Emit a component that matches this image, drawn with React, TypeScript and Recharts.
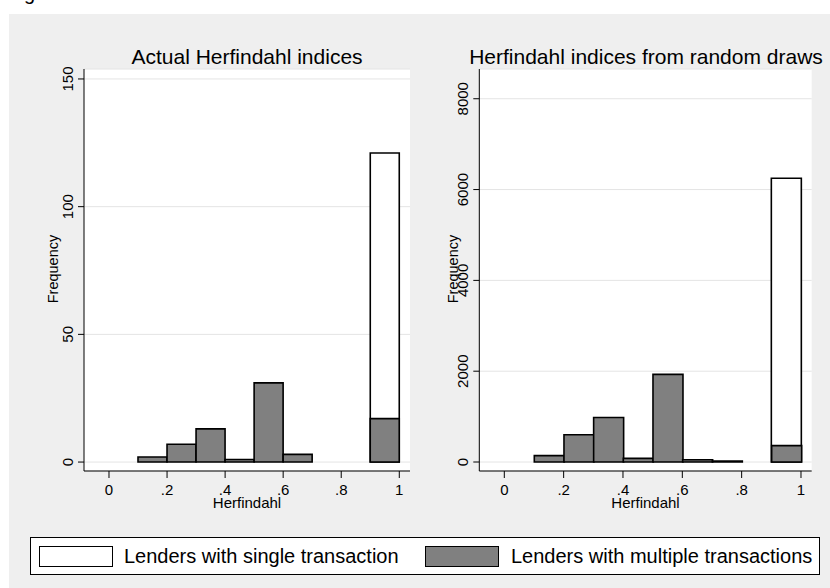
import React from "react";
import { BarChart, Bar, XAxis, YAxis, CartesianGrid, Label } from "recharts";

// Stata-style overlaid histograms, bin width .1 on the Herfindahl index
const bins = ["0-.1", ".1-.2", ".2-.3", ".3-.4", ".4-.5", ".5-.6", ".6-.7", ".7-.8", ".8-.9", ".9-1"];
const binMids = [0.05, 0.15, 0.25, 0.35, 0.45, 0.55, 0.65, 0.75, 0.85, 0.95];

const actualSingle = [null, null, null, null, null, null, null, null, null, 121];
const actualMultiple = [null, 2, 7, 13, 1, 31, 3, null, null, 17];

const drawsSingle = [null, null, null, null, null, null, null, null, null, 6250];
const drawsMultiple = [null, 140, 600, 980, 80, 1930, 50, 20, null, 360];

const xTicks = [0, 0.2, 0.4, 0.6, 0.8, 1];
const xTickLabels = ["0", ".2", ".4", ".6", ".8", "1"];
const actualYTicks = [0, 50, 100, 150];
const drawsYTicks = [0, 2000, 4000, 6000, 8000];

const FONT = "'Liberation Sans', Arial, Helvetica, sans-serif";
const GRAY = "#808080";
const PANEL_BG = "#efefef";
const GRID = "#e4e4e4";

type PanelProps = {
  left: number;
  single: (number | null)[];
  multiple: (number | null)[];
  yTicks: number[];
  yDomain: [number, number];
  xDomain: [number, number];
  yAxisWidth: number;
  rightMargin: number;
  padLeft: number;
  padRight: number;
  labelX: number;
};

function XTick(props: any) {
  const { x, y, payload } = props;
  const i = xTicks.indexOf(payload.value);
  return (
    <text x={x} y={y} dy={15} textAnchor="middle" fontSize={15} fontFamily={FONT} fill="#000">
      {i >= 0 ? xTickLabels[i] : String(payload.value)}
    </text>
  );
}

function YTick(props: any) {
  const { x, y, payload } = props;
  const bx = x - 3;
  return (
    <text
      x={bx}
      y={y}
      transform={`rotate(-90, ${bx}, ${y})`}
      textAnchor="middle"
      fontSize={15}
      fontFamily={FONT}
      fill="#000"
    >
      {payload.value}
    </text>
  );
}

function HistPanel(p: PanelProps) {
  const data = bins.map((b, i) => ({ bin: b, mid: binMids[i], single: p.single[i], multiple: p.multiple[i] }));
  return (
    <div style={{ position: "absolute", left: p.left, top: 0 }}>
      <BarChart
        width={415}
        height={588}
        data={data}
        margin={{ top: 69, right: p.rightMargin, bottom: 72, left: 0 }}
        barCategoryGap={0}
        barGap="-100%"
      >
        <CartesianGrid vertical={false} fill="#ffffff" stroke={GRID} strokeWidth={1} />
        <XAxis dataKey="bin" hide height={0} padding={{ left: p.padLeft, right: p.padRight }} />
        <XAxis
          xAxisId="h"
          dataKey="mid"
          type="number"
          domain={p.xDomain}
          allowDataOverflow
          ticks={xTicks}
          interval={0}
          height={45}
          tickSize={7}
          tickMargin={2}
          axisLine={{ stroke: "#000", strokeWidth: 1 }}
          tickLine={{ stroke: "#000", strokeWidth: 1 }}
          tick={<XTick />}
        >
          <Label
            content={(lp: any) => {
              const vb = lp.viewBox;
              return (
                <text
                  x={vb.x + vb.width / 2}
                  y={vb.y + 37}
                  textAnchor="middle"
                  fontSize={15}
                  fontFamily={FONT}
                  fill="#000"
                >
                  Herfindahl
                </text>
              );
            }}
          />
        </XAxis>
        <YAxis
          type="number"
          domain={p.yDomain}
          allowDataOverflow
          ticks={p.yTicks}
          interval={0}
          width={p.yAxisWidth}
          tickSize={6}
          tickMargin={2}
          axisLine={{ stroke: "#000", strokeWidth: 1 }}
          tickLine={{ stroke: "#000", strokeWidth: 1 }}
          tick={<YTick />}
        >
          <Label
            content={(lp: any) => {
              const vb = lp.viewBox;
              const cy = vb.y + vb.height / 2 - 1;
              return (
                <text
                  x={p.labelX}
                  y={cy}
                  transform={`rotate(-90, ${p.labelX}, ${cy})`}
                  textAnchor="middle"
                  fontSize={14.5}
                  fontFamily={FONT}
                  fill="#000"
                >
                  Frequency
                </text>
              );
            }}
          />
        </YAxis>
        <Bar dataKey="single" fill="#ffffff" stroke="#000" strokeWidth={1.6} isAnimationActive={false} />
        <Bar dataKey="multiple" fill={GRAY} stroke="#000" strokeWidth={1.6} isAnimationActive={false} />
      </BarChart>
    </div>
  );
}

const titleStyle: React.CSSProperties = {
  position: "absolute",
  top: 45.5,
  width: 400,
  textAlign: "center",
  fontSize: 21,
  lineHeight: "21px",
  fontFamily: FONT,
  color: "#000",
  whiteSpace: "nowrap",
};

const legendText: React.CSSProperties = {
  position: "absolute",
  top: 8,
  fontSize: 20,
  lineHeight: "20px",
  fontFamily: FONT,
  color: "#000",
  whiteSpace: "nowrap",
};

export default function App() {
  return (
    <div
      style={{
        position: "absolute",
        left: 0,
        top: 0,
        width: 830,
        height: 588,
        background: "#ffffff",
        overflow: "hidden",
        fontFamily: FONT,
      }}
    >
      <div style={{ position: "absolute", left: 24, top: -17, fontSize: 20, lineHeight: "20px" }}>g</div>
      <div style={{ position: "absolute", left: 9, top: 14, width: 821, height: 574, background: PANEL_BG }} />

      <HistPanel
        left={0}
        single={actualSingle}
        multiple={actualMultiple}
        yTicks={actualYTicks}
        yDomain={[-3.5, 153.9]}
        xDomain={[-0.0861, 1.0369]}
        yAxisWidth={84}
        rightMargin={5}
        padLeft={25}
        padRight={10.7}
        labelX={58.3}
      />
      <HistPanel
        left={415}
        single={drawsSingle}
        multiple={drawsMultiple}
        yTicks={drawsYTicks}
        yDomain={[-198, 8655]}
        xDomain={[-0.0843, 1.0361]}
        yAxisWidth={64.3}
        rightMargin={18.3}
        padLeft={25}
        padRight={10.7}
        labelX={43.3}
      />

      <div style={{ ...titleStyle, left: 47 }}>Actual Herfindahl indices</div>
      <div style={{ ...titleStyle, left: 446 }}>Herfindahl indices from random draws</div>

      <div
        style={{
          position: "absolute",
          left: 30,
          top: 537,
          width: 788,
          height: 36,
          background: "#ffffff",
          border: "1px solid #000",
        }}
      >
        <div
          style={{
            position: "absolute",
            left: 8,
            top: 8,
            width: 72,
            height: 19,
            background: "#ffffff",
            border: "1px solid #000",
          }}
        />
        <div style={{ ...legendText, left: 93 }}>Lenders with single transaction</div>
        <div
          style={{
            position: "absolute",
            left: 394,
            top: 8,
            width: 72,
            height: 19,
            background: GRAY,
            border: "1px solid #000",
          }}
        />
        <div style={{ ...legendText, left: 480 }}>Lenders with multiple transactions</div>
      </div>
    </div>
  );
}
